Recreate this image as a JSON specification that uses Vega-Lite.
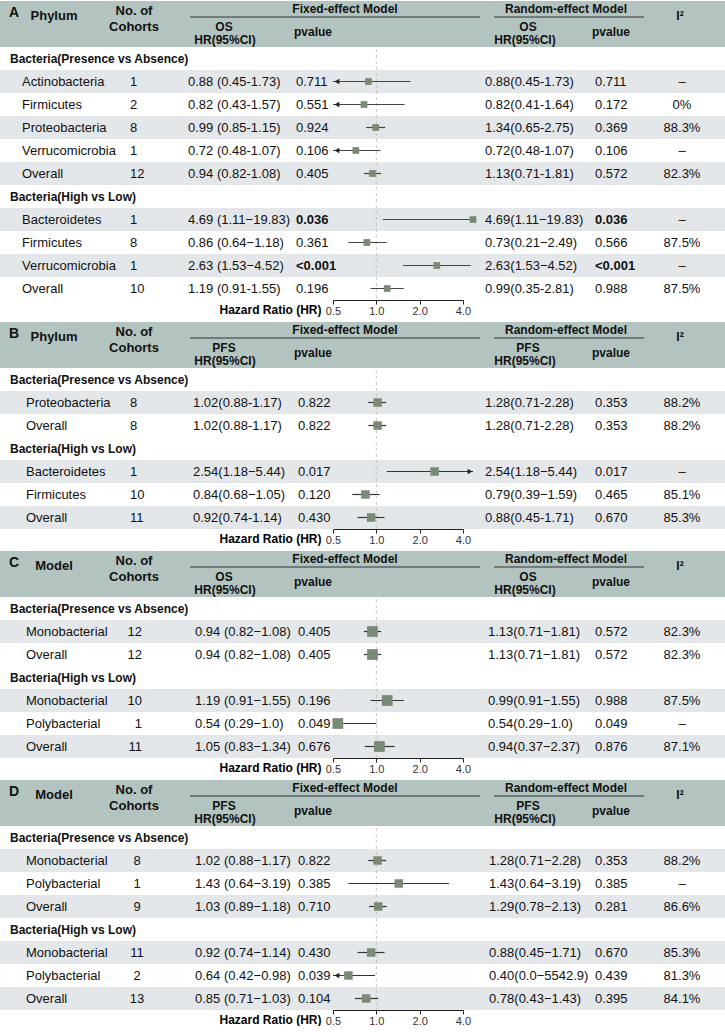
{
"$schema": "https://vega.github.io/schema/vega-lite/v6.json",
"padding": 0,
"background": "white",
"spacing": 5,
"config": {"font": "Liberation Sans", "view": {"stroke": null}, "text": {"color": "#111"}},
"datasets": {
"rows": [
{"panel":"A","row":0,"kind":"section","grp":"P","name":"Bacteria(Presence vs Absence)"},
{"panel":"A","row":1,"kind":"item","grp":"P","name":"Actinobacteria","n":"1","hf":"0.88 (0.45-1.73)","pf":"0.711","hr":0.88,"lo":0.45,"hi":1.73,"hrr":"0.88(0.45-1.73)","pr":"0.711","i2":"–","trunc":"left"},
{"panel":"A","row":2,"kind":"item","grp":"P","name":"Firmicutes","n":"2","hf":"0.82 (0.43-1.57)","pf":"0.551","hr":0.82,"lo":0.43,"hi":1.57,"hrr":"0.82(0.41-1.64)","pr":"0.172","i2":"0%","trunc":"left"},
{"panel":"A","row":3,"kind":"item","grp":"P","name":"Proteobacteria","n":"8","hf":"0.99 (0.85-1.15)","pf":"0.924","hr":0.99,"lo":0.85,"hi":1.15,"hrr":"1.34(0.65-2.75)","pr":"0.369","i2":"88.3%"},
{"panel":"A","row":4,"kind":"item","grp":"P","name":"Verrucomicrobia","n":"1","hf":"0.72 (0.48-1.07)","pf":"0.106","hr":0.72,"lo":0.48,"hi":1.07,"hrr":"0.72(0.48-1.07)","pr":"0.106","i2":"–","trunc":"left"},
{"panel":"A","row":5,"kind":"item","grp":"P","name":"Overall","n":"12","hf":"0.94 (0.82-1.08)","pf":"0.405","hr":0.94,"lo":0.82,"hi":1.08,"hrr":"1.13(0.71-1.81)","pr":"0.572","i2":"82.3%"},
{"panel":"A","row":6,"kind":"section","grp":"H","name":"Bacteria(High vs Low)"},
{"panel":"A","row":7,"kind":"item","grp":"H","name":"Bacteroidetes","n":"1","hf":"4.69 (1.11−19.83)","pf":"0.036","hr":4.69,"lo":1.11,"hi":19.83,"hrr":"4.69(1.11−19.83)","pr":"0.036","i2":"–","hl":true},
{"panel":"A","row":8,"kind":"item","grp":"H","name":"Firmicutes","n":"8","hf":"0.86 (0.64−1.18)","pf":"0.361","hr":0.86,"lo":0.64,"hi":1.18,"hrr":"0.73(0.21−2.49)","pr":"0.566","i2":"87.5%"},
{"panel":"A","row":9,"kind":"item","grp":"H","name":"Verrucomicrobia","n":"1","hf":"2.63 (1.53−4.52)","pf":"<0.001","hr":2.63,"lo":1.53,"hi":4.52,"hrr":"2.63(1.53−4.52)","pr":"<0.001","i2":"–","hl":true},
{"panel":"A","row":10,"kind":"item","grp":"H","name":"Overall","n":"10","hf":"1.19 (0.91-1.55)","pf":"0.196","hr":1.19,"lo":0.91,"hi":1.55,"hrr":"0.99(0.35-2.81)","pr":"0.988","i2":"87.5%"},
{"panel":"B","row":0,"kind":"section","grp":"P","name":"Bacteria(Presence vs Absence)"},
{"panel":"B","row":1,"kind":"item","grp":"P","name":"Proteobacteria","n":"8","hf":"1.02(0.88-1.17)","pf":"0.822","hr":1.02,"lo":0.88,"hi":1.17,"hrr":"1.28(0.71-2.28)","pr":"0.353","i2":"88.2%"},
{"panel":"B","row":2,"kind":"item","grp":"P","name":"Overall","n":"8","hf":"1.02(0.88-1.17)","pf":"0.822","hr":1.02,"lo":0.88,"hi":1.17,"hrr":"1.28(0.71-2.28)","pr":"0.353","i2":"88.2%"},
{"panel":"B","row":3,"kind":"section","grp":"H","name":"Bacteria(High vs Low)"},
{"panel":"B","row":4,"kind":"item","grp":"H","name":"Bacteroidetes","n":"1","hf":"2.54(1.18−5.44)","pf":"0.017","hr":2.54,"lo":1.18,"hi":5.44,"hrr":"2.54(1.18−5.44)","pr":"0.017","i2":"–","trunc":"right"},
{"panel":"B","row":5,"kind":"item","grp":"H","name":"Firmicutes","n":"10","hf":"0.84(0.68−1.05)","pf":"0.120","hr":0.84,"lo":0.68,"hi":1.05,"hrr":"0.79(0.39−1.59)","pr":"0.465","i2":"85.1%"},
{"panel":"B","row":6,"kind":"item","grp":"H","name":"Overall","n":"11","hf":"0.92(0.74-1.14)","pf":"0.430","hr":0.92,"lo":0.74,"hi":1.14,"hrr":"0.88(0.45-1.71)","pr":"0.670","i2":"85.3%"},
{"panel":"C","row":0,"kind":"section","grp":"P","name":"Bacteria(Presence vs Absence)"},
{"panel":"C","row":1,"kind":"item","grp":"P","name":"Monobacterial","n":"12","hf":"0.94 (0.82−1.08)","pf":"0.405","hr":0.94,"lo":0.82,"hi":1.08,"hrr":"1.13(0.71−1.81)","pr":"0.572","i2":"82.3%"},
{"panel":"C","row":2,"kind":"item","grp":"P","name":"Overall","n":"12","hf":"0.94 (0.82−1.08)","pf":"0.405","hr":0.94,"lo":0.82,"hi":1.08,"hrr":"1.13(0.71−1.81)","pr":"0.572","i2":"82.3%"},
{"panel":"C","row":3,"kind":"section","grp":"H","name":"Bacteria(High vs Low)"},
{"panel":"C","row":4,"kind":"item","grp":"H","name":"Monobacterial","n":"10","hf":"1.19 (0.91−1.55)","pf":"0.196","hr":1.19,"lo":0.91,"hi":1.55,"hrr":"0.99(0.91−1.55)","pr":"0.988","i2":"87.5%"},
{"panel":"C","row":5,"kind":"item","grp":"H","name":"Polybacterial","n":"1","hf":"0.54 (0.29−1.0)","pf":"0.049","hr":0.54,"lo":0.29,"hi":1.0,"hrr":"0.54(0.29−1.0)","pr":"0.049","i2":"–"},
{"panel":"C","row":6,"kind":"item","grp":"H","name":"Overall","n":"11","hf":"1.05 (0.83−1.34)","pf":"0.676","hr":1.05,"lo":0.83,"hi":1.34,"hrr":"0.94(0.37−2.37)","pr":"0.876","i2":"87.1%"},
{"panel":"D","row":0,"kind":"section","grp":"P","name":"Bacteria(Presence vs Absence)"},
{"panel":"D","row":1,"kind":"item","grp":"P","name":"Monobacterial","n":"8","hf":"1.02 (0.88−1.17)","pf":"0.822","hr":1.02,"lo":0.88,"hi":1.17,"hrr":"1.28(0.71−2.28)","pr":"0.353","i2":"88.2%"},
{"panel":"D","row":2,"kind":"item","grp":"P","name":"Polybacterial","n":"1","hf":"1.43 (0.64−3.19)","pf":"0.385","hr":1.43,"lo":0.64,"hi":3.19,"hrr":"1.43(0.64−3.19)","pr":"0.385","i2":"–"},
{"panel":"D","row":3,"kind":"item","grp":"P","name":"Overall","n":"9","hf":"1.03 (0.89−1.18)","pf":"0.710","hr":1.03,"lo":0.89,"hi":1.18,"hrr":"1.29(0.78−2.13)","pr":"0.281","i2":"86.6%"},
{"panel":"D","row":4,"kind":"section","grp":"H","name":"Bacteria(High vs Low)"},
{"panel":"D","row":5,"kind":"item","grp":"H","name":"Monobacterial","n":"11","hf":"0.92 (0.74−1.14)","pf":"0.430","hr":0.92,"lo":0.74,"hi":1.14,"hrr":"0.88(0.45−1.71)","pr":"0.670","i2":"85.3%"},
{"panel":"D","row":6,"kind":"item","grp":"H","name":"Polybacterial","n":"2","hf":"0.64 (0.42−0.98)","pf":"0.039","hr":0.64,"lo":0.42,"hi":0.98,"hrr":"0.40(0.0−5542.9)","pr":"0.439","i2":"81.3%","trunc":"left"},
{"panel":"D","row":7,"kind":"item","grp":"H","name":"Overall","n":"13","hf":"0.85 (0.71−1.03)","pf":"0.104","hr":0.85,"lo":0.71,"hi":1.03,"hrr":"0.78(0.43−1.43)","pr":"0.395","i2":"84.1%"}
]
},
"data": {"name": "rows"},
"vconcat": [
{
"width": 725, "height": 299,
"transform": [{"filter": "datum.panel == 'A'"}],
"resolve": {"scale": {"x": "independent"}},
"layer": [
{"transform": [{"filter": "datum.kind == 'item'"},{"window": [{"op": "row_number", "as": "rn"}], "groupby": ["grp"], "sort": [{"field": "row", "order": "ascending"}]},{"filter": "datum.rn % 2 == 1"}],
 "mark": {"type": "rect", "color": "#e4e7ea"},
 "encoding": {"x": {"datum": 0, "type": "quantitative", "scale": {"domain": [0, 725], "nice": false}, "axis": null}, "x2": {"datum": 725},
  "y": {"field": "row", "type": "ordinal", "axis": null, "scale": {"domain": [-2,-1,0,1,2,3,4,5,6,7,8,9,10], "paddingInner": 0, "paddingOuter": 0}}}},
{"resolve": {"scale": {"x": "independent"}},
 "layer": [
  {"data": {"values": [{"panel": "A", "hr": 1}]}, "mark": {"type": "rule", "color": "#c2c2c2", "strokeDash": [3, 3], "strokeWidth": 1},
   "encoding": {"x": {"field": "hr", "type": "quantitative", "scale": {"type": "log", "base": 2, "domain": [0.5, 4], "range": [333, 463], "nice": false},
    "axis": {"values": [0.5, 1, 2, 4], "format": ".1f", "title": "Hazard Ratio (HR)", "titleX": 321, "titleY": 9, "titleAlign": "right", "titleBaseline": "middle", "titleFontSize": 12, "titleFontWeight": "bold", "titleColor": "#000", "titleFont": "Liberation Sans", "labelFont": "Liberation Sans", "labelFontSize": 11, "labelColor": "#333", "labelFlush": false, "tickSize": 4, "labelPadding": 1, "domainColor": "#222", "tickColor": "#222", "grid": false}}}},
  {"transform": [{"filter": "datum.kind == 'item'"}],
   "layer": [
    {"mark": {"type": "rule", "color": "#444", "strokeWidth": 1.2},
     "encoding": {"x": {"field": "lo", "type": "quantitative", "scale": {"type": "log", "base": 2, "domain": [0.5, 4.69], "range": [333, 473], "clamp": true, "nice": false}, "axis": null}, "x2": {"field": "hi"},
      "y": {"field": "row", "type": "ordinal", "axis": null, "scale": {"domain": [-2,-1,0,1,2,3,4,5,6,7,8,9,10], "paddingInner": 0, "paddingOuter": 0}}}},
    {"transform": [{"filter": "datum.trunc == 'left'"}], "mark": {"type": "point", "shape": "triangle-left", "filled": true, "color": "#222", "opacity": 1, "size": 30, "xOffset": 4},
     "encoding": {"x": {"field": "lo", "type": "quantitative"}, "y": {"field": "row", "type": "ordinal"}}},
    {"transform": [{"filter": "datum.trunc == 'right'"}], "mark": {"type": "point", "shape": "triangle-right", "filled": true, "color": "#222", "opacity": 1, "size": 30, "xOffset": -3},
     "encoding": {"x": {"field": "hi", "type": "quantitative"}, "y": {"field": "row", "type": "ordinal"}}},
    {"mark": {"type": "point", "shape": "square", "filled": true, "color": "#7a8a74", "opacity": 1, "size": 45},
     "encoding": {"x": {"field": "hr", "type": "quantitative"}, "y": {"field": "row", "type": "ordinal"}}}
   ]}
 ]},
{"layer": [
  {"data": {"values": [{"panel": "A", "row": -2}, {"panel": "A", "row": -1}]}, "mark": {"type": "rect", "color": "#b3c4c0"},
   "encoding": {"x": {"datum": 0, "type": "quantitative", "scale": {"domain": [0, 725], "nice": false}, "axis": null}, "x2": {"datum": 725},
    "y": {"field": "row", "type": "ordinal", "axis": null, "scale": {"domain": [-2,-1,0,1,2,3,4,5,6,7,8,9,10], "paddingInner": 0, "paddingOuter": 0}}}},
  {"data": {"values": [{"panel": "A", "label": "A"}]}, "mark": {"type": "text", "align": "left", "baseline": "middle", "fontSize": 14, "fontWeight": "bold", "dy": 0},
   "encoding": {"x": {"datum": 9, "type": "quantitative"}, "y": {"datum": -2, "type": "ordinal"}, "text": {"field": "label"}}},
  {"data": {"values": [{"panel": "A", "label": "Phylum"}]}, "mark": {"type": "text", "align": "center", "baseline": "middle", "fontSize": 13, "fontWeight": "bold", "dy": 3.5},
   "encoding": {"x": {"datum": 54, "type": "quantitative"}, "y": {"datum": -2, "type": "ordinal"}, "text": {"field": "label"}}},
  {"data": {"values": [{"panel": "A", "label": "No. of"}]}, "mark": {"type": "text", "align": "center", "baseline": "middle", "fontSize": 13, "fontWeight": "bold", "dy": -1.5},
   "encoding": {"x": {"datum": 134, "type": "quantitative"}, "y": {"datum": -2, "type": "ordinal"}, "text": {"field": "label"}}},
  {"data": {"values": [{"panel": "A", "label": "Cohorts"}]}, "mark": {"type": "text", "align": "center", "baseline": "middle", "fontSize": 13, "fontWeight": "bold", "dy": -8.5},
   "encoding": {"x": {"datum": 134, "type": "quantitative"}, "y": {"datum": -1, "type": "ordinal"}, "text": {"field": "label"}}},
  {"data": {"values": [{"panel": "A", "label": "Fixed-effect Model"}]}, "mark": {"type": "text", "align": "center", "baseline": "middle", "fontSize": 12, "fontWeight": "bold", "dy": -3.5},
   "encoding": {"x": {"datum": 345, "type": "quantitative"}, "y": {"datum": -2, "type": "ordinal"}, "text": {"field": "label"}}},
  {"data": {"values": [{"panel": "A"}]}, "mark": {"type": "rule", "color": "#333", "strokeWidth": 1.2, "yOffset": 4.5},
   "encoding": {"x": {"datum": 190, "type": "quantitative"}, "x2": {"datum": 480}, "y": {"datum": -2, "type": "ordinal"}}},
  {"data": {"values": [{"panel": "A", "label": "OS"}]}, "mark": {"type": "text", "align": "center", "baseline": "middle", "fontSize": 12, "fontWeight": "bold", "dy": -9},
   "encoding": {"x": {"datum": 224, "type": "quantitative"}, "y": {"datum": -1, "type": "ordinal"}, "text": {"field": "label"}}},
  {"data": {"values": [{"panel": "A", "label": "HR(95%CI)"}]}, "mark": {"type": "text", "align": "center", "baseline": "middle", "fontSize": 12, "fontWeight": "bold", "dy": 4.5},
   "encoding": {"x": {"datum": 225, "type": "quantitative"}, "y": {"datum": -1, "type": "ordinal"}, "text": {"field": "label"}}},
  {"data": {"values": [{"panel": "A", "label": "pvalue"}]}, "mark": {"type": "text", "align": "center", "baseline": "middle", "fontSize": 12, "fontWeight": "bold", "dy": -3.5},
   "encoding": {"x": {"datum": 313, "type": "quantitative"}, "y": {"datum": -1, "type": "ordinal"}, "text": {"field": "label"}}},
  {"data": {"values": [{"panel": "A", "label": "Random-effect Model"}]}, "mark": {"type": "text", "align": "center", "baseline": "middle", "fontSize": 12, "fontWeight": "bold", "dy": -4},
   "encoding": {"x": {"datum": 566, "type": "quantitative"}, "y": {"datum": -2, "type": "ordinal"}, "text": {"field": "label"}}},
  {"data": {"values": [{"panel": "A"}]}, "mark": {"type": "rule", "color": "#333", "strokeWidth": 1.2, "yOffset": 4.5},
   "encoding": {"x": {"datum": 494, "type": "quantitative"}, "x2": {"datum": 644}, "y": {"datum": -2, "type": "ordinal"}}},
  {"data": {"values": [{"panel": "A", "label": "OS"}]}, "mark": {"type": "text", "align": "center", "baseline": "middle", "fontSize": 12, "fontWeight": "bold", "dy": -9},
   "encoding": {"x": {"datum": 528, "type": "quantitative"}, "y": {"datum": -1, "type": "ordinal"}, "text": {"field": "label"}}},
  {"data": {"values": [{"panel": "A", "label": "HR(95%CI)"}]}, "mark": {"type": "text", "align": "center", "baseline": "middle", "fontSize": 12, "fontWeight": "bold", "dy": 4.5},
   "encoding": {"x": {"datum": 525, "type": "quantitative"}, "y": {"datum": -1, "type": "ordinal"}, "text": {"field": "label"}}},
  {"data": {"values": [{"panel": "A", "label": "pvalue"}]}, "mark": {"type": "text", "align": "center", "baseline": "middle", "fontSize": 12, "fontWeight": "bold", "dy": -3.5},
   "encoding": {"x": {"datum": 611, "type": "quantitative"}, "y": {"datum": -1, "type": "ordinal"}, "text": {"field": "label"}}},
  {"data": {"values": [{"panel": "A", "label": "I²"}]}, "mark": {"type": "text", "align": "center", "baseline": "middle", "fontSize": 12, "fontWeight": "bold", "dy": 3.5},
   "encoding": {"x": {"datum": 680, "type": "quantitative"}, "y": {"datum": -2, "type": "ordinal"}, "text": {"field": "label"}}},
  {"transform": [{"filter": "datum.kind == 'section'"}], "mark": {"type": "text", "align": "left", "baseline": "middle", "fontSize": 12, "fontWeight": "bold"},
   "encoding": {"x": {"datum": 10, "type": "quantitative"}, "y": {"field": "row", "type": "ordinal"}, "text": {"field": "name"}}},
  {"transform": [{"filter": "datum.kind == 'item'"}], "mark": {"type": "text", "align": "left", "baseline": "middle", "fontSize": 13},
   "encoding": {"x": {"datum": 22, "type": "quantitative"}, "y": {"field": "row", "type": "ordinal"}, "text": {"field": "name"}}},
  {"transform": [{"filter": "datum.kind == 'item'"}], "mark": {"type": "text", "align": "left", "baseline": "middle", "fontSize": 13},
   "encoding": {"x": {"datum": 130, "type": "quantitative"}, "y": {"field": "row", "type": "ordinal"}, "text": {"field": "n"}}},
  {"transform": [{"filter": "datum.kind == 'item'"}], "mark": {"type": "text", "align": "left", "baseline": "middle", "fontSize": 13},
   "encoding": {"x": {"datum": 188, "type": "quantitative"}, "y": {"field": "row", "type": "ordinal"}, "text": {"field": "hf"}}},
  {"transform": [{"filter": "datum.kind == 'item' && !datum.hl"}], "mark": {"type": "text", "align": "left", "baseline": "middle", "fontSize": 13},
   "encoding": {"x": {"datum": 296, "type": "quantitative"}, "y": {"field": "row", "type": "ordinal"}, "text": {"field": "pf"}}},
  {"transform": [{"filter": "datum.kind == 'item' && datum.hl"}], "mark": {"type": "text", "align": "left", "baseline": "middle", "fontSize": 13, "fontWeight": "bold"},
   "encoding": {"x": {"datum": 296, "type": "quantitative"}, "y": {"field": "row", "type": "ordinal"}, "text": {"field": "pf"}}},
  {"transform": [{"filter": "datum.kind == 'item'"}], "mark": {"type": "text", "align": "left", "baseline": "middle", "fontSize": 13},
   "encoding": {"x": {"datum": 485, "type": "quantitative"}, "y": {"field": "row", "type": "ordinal"}, "text": {"field": "hrr"}}},
  {"transform": [{"filter": "datum.kind == 'item' && !datum.hl"}], "mark": {"type": "text", "align": "left", "baseline": "middle", "fontSize": 13},
   "encoding": {"x": {"datum": 595, "type": "quantitative"}, "y": {"field": "row", "type": "ordinal"}, "text": {"field": "pr"}}},
  {"transform": [{"filter": "datum.kind == 'item' && datum.hl"}], "mark": {"type": "text", "align": "left", "baseline": "middle", "fontSize": 13, "fontWeight": "bold"},
   "encoding": {"x": {"datum": 595, "type": "quantitative"}, "y": {"field": "row", "type": "ordinal"}, "text": {"field": "pr"}}},
  {"transform": [{"filter": "datum.kind == 'item'"}], "mark": {"type": "text", "align": "center", "baseline": "middle", "fontSize": 13},
   "encoding": {"x": {"datum": 682, "type": "quantitative"}, "y": {"field": "row", "type": "ordinal"}, "text": {"field": "i2"}}}
 ]}
]
},
{
"width": 725, "height": 207,
"transform": [{"filter": "datum.panel == 'B'"}],
"resolve": {"scale": {"x": "independent"}},
"layer": [
{"transform": [{"filter": "datum.kind == 'item'"},{"window": [{"op": "row_number", "as": "rn"}], "groupby": ["grp"], "sort": [{"field": "row", "order": "ascending"}]},{"filter": "datum.rn % 2 == 1"}],
 "mark": {"type": "rect", "color": "#e4e7ea"},
 "encoding": {"x": {"datum": 0, "type": "quantitative", "scale": {"domain": [0, 725], "nice": false}, "axis": null}, "x2": {"datum": 725},
  "y": {"field": "row", "type": "ordinal", "axis": null, "scale": {"domain": [-2,-1,0,1,2,3,4,5,6], "paddingInner": 0, "paddingOuter": 0}}}},
{"resolve": {"scale": {"x": "independent"}},
 "layer": [
  {"data": {"values": [{"panel": "B", "hr": 1}]}, "mark": {"type": "rule", "color": "#c2c2c2", "strokeDash": [3, 3], "strokeWidth": 1},
   "encoding": {"x": {"field": "hr", "type": "quantitative", "scale": {"type": "log", "base": 2, "domain": [0.5, 4], "range": [333, 463], "nice": false},
    "axis": {"values": [0.5, 1, 2, 4], "format": ".1f", "title": "Hazard Ratio (HR)", "titleX": 321, "titleY": 9, "titleAlign": "right", "titleBaseline": "middle", "titleFontSize": 12, "titleFontWeight": "bold", "titleColor": "#000", "titleFont": "Liberation Sans", "labelFont": "Liberation Sans", "labelFontSize": 11, "labelColor": "#333", "labelFlush": false, "tickSize": 4, "labelPadding": 1, "domainColor": "#222", "tickColor": "#222", "grid": false}}}},
  {"transform": [{"filter": "datum.kind == 'item'"}],
   "layer": [
    {"mark": {"type": "rule", "color": "#333", "strokeWidth": 1.2},
     "encoding": {"x": {"field": "lo", "type": "quantitative", "scale": {"type": "log", "base": 2, "domain": [0.5, 4.69], "range": [333, 473], "clamp": true, "nice": false}, "axis": null}, "x2": {"field": "hi"},
      "y": {"field": "row", "type": "ordinal", "axis": null, "scale": {"domain": [-2,-1,0,1,2,3,4,5,6], "paddingInner": 0, "paddingOuter": 0}}}},
    {"transform": [{"filter": "datum.trunc == 'left'"}], "mark": {"type": "point", "shape": "triangle-left", "filled": true, "color": "#222", "opacity": 1, "size": 30, "xOffset": 4},
     "encoding": {"x": {"field": "lo", "type": "quantitative"}, "y": {"field": "row", "type": "ordinal"}}},
    {"transform": [{"filter": "datum.trunc == 'right'"}], "mark": {"type": "point", "shape": "triangle-right", "filled": true, "color": "#222", "opacity": 1, "size": 30, "xOffset": -3},
     "encoding": {"x": {"field": "hi", "type": "quantitative"}, "y": {"field": "row", "type": "ordinal"}}},
    {"mark": {"type": "point", "shape": "square", "filled": true, "color": "#7a8a74", "opacity": 1, "size": 72},
     "encoding": {"x": {"field": "hr", "type": "quantitative"}, "y": {"field": "row", "type": "ordinal"}}}
   ]}
 ]},
{"layer": [
  {"data": {"values": [{"panel": "B", "row": -2}, {"panel": "B", "row": -1}]}, "mark": {"type": "rect", "color": "#b3c4c0"},
   "encoding": {"x": {"datum": 0, "type": "quantitative", "scale": {"domain": [0, 725], "nice": false}, "axis": null}, "x2": {"datum": 725},
    "y": {"field": "row", "type": "ordinal", "axis": null, "scale": {"domain": [-2,-1,0,1,2,3,4,5,6], "paddingInner": 0, "paddingOuter": 0}}}},
  {"data": {"values": [{"panel": "B", "label": "B"}]}, "mark": {"type": "text", "align": "left", "baseline": "middle", "fontSize": 14, "fontWeight": "bold", "dy": 0},
   "encoding": {"x": {"datum": 9, "type": "quantitative"}, "y": {"datum": -2, "type": "ordinal"}, "text": {"field": "label"}}},
  {"data": {"values": [{"panel": "B", "label": "Phylum"}]}, "mark": {"type": "text", "align": "center", "baseline": "middle", "fontSize": 13, "fontWeight": "bold", "dy": 3.5},
   "encoding": {"x": {"datum": 54, "type": "quantitative"}, "y": {"datum": -2, "type": "ordinal"}, "text": {"field": "label"}}},
  {"data": {"values": [{"panel": "B", "label": "No. of"}]}, "mark": {"type": "text", "align": "center", "baseline": "middle", "fontSize": 13, "fontWeight": "bold", "dy": -1.5},
   "encoding": {"x": {"datum": 134, "type": "quantitative"}, "y": {"datum": -2, "type": "ordinal"}, "text": {"field": "label"}}},
  {"data": {"values": [{"panel": "B", "label": "Cohorts"}]}, "mark": {"type": "text", "align": "center", "baseline": "middle", "fontSize": 13, "fontWeight": "bold", "dy": -8.5},
   "encoding": {"x": {"datum": 134, "type": "quantitative"}, "y": {"datum": -1, "type": "ordinal"}, "text": {"field": "label"}}},
  {"data": {"values": [{"panel": "B", "label": "Fixed-effect Model"}]}, "mark": {"type": "text", "align": "center", "baseline": "middle", "fontSize": 12, "fontWeight": "bold", "dy": -3.5},
   "encoding": {"x": {"datum": 345, "type": "quantitative"}, "y": {"datum": -2, "type": "ordinal"}, "text": {"field": "label"}}},
  {"data": {"values": [{"panel": "B"}]}, "mark": {"type": "rule", "color": "#333", "strokeWidth": 1.2, "yOffset": 4.5},
   "encoding": {"x": {"datum": 190, "type": "quantitative"}, "x2": {"datum": 480}, "y": {"datum": -2, "type": "ordinal"}}},
  {"data": {"values": [{"panel": "B", "label": "PFS"}]}, "mark": {"type": "text", "align": "center", "baseline": "middle", "fontSize": 12, "fontWeight": "bold", "dy": -9},
   "encoding": {"x": {"datum": 224, "type": "quantitative"}, "y": {"datum": -1, "type": "ordinal"}, "text": {"field": "label"}}},
  {"data": {"values": [{"panel": "B", "label": "HR(95%CI)"}]}, "mark": {"type": "text", "align": "center", "baseline": "middle", "fontSize": 12, "fontWeight": "bold", "dy": 4.5},
   "encoding": {"x": {"datum": 225, "type": "quantitative"}, "y": {"datum": -1, "type": "ordinal"}, "text": {"field": "label"}}},
  {"data": {"values": [{"panel": "B", "label": "pvalue"}]}, "mark": {"type": "text", "align": "center", "baseline": "middle", "fontSize": 12, "fontWeight": "bold", "dy": -3.5},
   "encoding": {"x": {"datum": 313, "type": "quantitative"}, "y": {"datum": -1, "type": "ordinal"}, "text": {"field": "label"}}},
  {"data": {"values": [{"panel": "B", "label": "Random-effect Model"}]}, "mark": {"type": "text", "align": "center", "baseline": "middle", "fontSize": 12, "fontWeight": "bold", "dy": -4},
   "encoding": {"x": {"datum": 566, "type": "quantitative"}, "y": {"datum": -2, "type": "ordinal"}, "text": {"field": "label"}}},
  {"data": {"values": [{"panel": "B"}]}, "mark": {"type": "rule", "color": "#333", "strokeWidth": 1.2, "yOffset": 4.5},
   "encoding": {"x": {"datum": 494, "type": "quantitative"}, "x2": {"datum": 644}, "y": {"datum": -2, "type": "ordinal"}}},
  {"data": {"values": [{"panel": "B", "label": "PFS"}]}, "mark": {"type": "text", "align": "center", "baseline": "middle", "fontSize": 12, "fontWeight": "bold", "dy": -9},
   "encoding": {"x": {"datum": 528, "type": "quantitative"}, "y": {"datum": -1, "type": "ordinal"}, "text": {"field": "label"}}},
  {"data": {"values": [{"panel": "B", "label": "HR(95%CI)"}]}, "mark": {"type": "text", "align": "center", "baseline": "middle", "fontSize": 12, "fontWeight": "bold", "dy": 4.5},
   "encoding": {"x": {"datum": 525, "type": "quantitative"}, "y": {"datum": -1, "type": "ordinal"}, "text": {"field": "label"}}},
  {"data": {"values": [{"panel": "B", "label": "pvalue"}]}, "mark": {"type": "text", "align": "center", "baseline": "middle", "fontSize": 12, "fontWeight": "bold", "dy": -3.5},
   "encoding": {"x": {"datum": 611, "type": "quantitative"}, "y": {"datum": -1, "type": "ordinal"}, "text": {"field": "label"}}},
  {"data": {"values": [{"panel": "B", "label": "I²"}]}, "mark": {"type": "text", "align": "center", "baseline": "middle", "fontSize": 12, "fontWeight": "bold", "dy": 3.5},
   "encoding": {"x": {"datum": 680, "type": "quantitative"}, "y": {"datum": -2, "type": "ordinal"}, "text": {"field": "label"}}},
  {"transform": [{"filter": "datum.kind == 'section'"}], "mark": {"type": "text", "align": "left", "baseline": "middle", "fontSize": 12, "fontWeight": "bold"},
   "encoding": {"x": {"datum": 10, "type": "quantitative"}, "y": {"field": "row", "type": "ordinal"}, "text": {"field": "name"}}},
  {"transform": [{"filter": "datum.kind == 'item'"}], "mark": {"type": "text", "align": "left", "baseline": "middle", "fontSize": 13},
   "encoding": {"x": {"datum": 26, "type": "quantitative"}, "y": {"field": "row", "type": "ordinal"}, "text": {"field": "name"}}},
  {"transform": [{"filter": "datum.kind == 'item'"}], "mark": {"type": "text", "align": "left", "baseline": "middle", "fontSize": 13},
   "encoding": {"x": {"datum": 130, "type": "quantitative"}, "y": {"field": "row", "type": "ordinal"}, "text": {"field": "n"}}},
  {"transform": [{"filter": "datum.kind == 'item'"}], "mark": {"type": "text", "align": "left", "baseline": "middle", "fontSize": 13},
   "encoding": {"x": {"datum": 193, "type": "quantitative"}, "y": {"field": "row", "type": "ordinal"}, "text": {"field": "hf"}}},
  {"transform": [{"filter": "datum.kind == 'item'"}], "mark": {"type": "text", "align": "left", "baseline": "middle", "fontSize": 13},
   "encoding": {"x": {"datum": 298, "type": "quantitative"}, "y": {"field": "row", "type": "ordinal"}, "text": {"field": "pf"}}},
  {"transform": [{"filter": "datum.kind == 'item'"}], "mark": {"type": "text", "align": "left", "baseline": "middle", "fontSize": 13},
   "encoding": {"x": {"datum": 485, "type": "quantitative"}, "y": {"field": "row", "type": "ordinal"}, "text": {"field": "hrr"}}},
  {"transform": [{"filter": "datum.kind == 'item'"}], "mark": {"type": "text", "align": "left", "baseline": "middle", "fontSize": 13},
   "encoding": {"x": {"datum": 595, "type": "quantitative"}, "y": {"field": "row", "type": "ordinal"}, "text": {"field": "pr"}}},
  {"transform": [{"filter": "datum.kind == 'item'"}], "mark": {"type": "text", "align": "center", "baseline": "middle", "fontSize": 13},
   "encoding": {"x": {"datum": 682, "type": "quantitative"}, "y": {"field": "row", "type": "ordinal"}, "text": {"field": "i2"}}}
 ]}
]
},
{
"width": 725, "height": 207,
"transform": [{"filter": "datum.panel == 'C'"}],
"resolve": {"scale": {"x": "independent"}},
"layer": [
{"transform": [{"filter": "datum.kind == 'item'"},{"window": [{"op": "row_number", "as": "rn"}], "groupby": ["grp"], "sort": [{"field": "row", "order": "ascending"}]},{"filter": "datum.rn % 2 == 1"}],
 "mark": {"type": "rect", "color": "#e4e7ea"},
 "encoding": {"x": {"datum": 0, "type": "quantitative", "scale": {"domain": [0, 725], "nice": false}, "axis": null}, "x2": {"datum": 725},
  "y": {"field": "row", "type": "ordinal", "axis": null, "scale": {"domain": [-2,-1,0,1,2,3,4,5,6], "paddingInner": 0, "paddingOuter": 0}}}},
{"resolve": {"scale": {"x": "independent"}},
 "layer": [
  {"data": {"values": [{"panel": "C", "hr": 1}]}, "mark": {"type": "rule", "color": "#c2c2c2", "strokeDash": [3, 3], "strokeWidth": 1},
   "encoding": {"x": {"field": "hr", "type": "quantitative", "scale": {"type": "log", "base": 2, "domain": [0.5, 4], "range": [333, 463], "nice": false},
    "axis": {"values": [0.5, 1, 2, 4], "format": ".1f", "title": "Hazard Ratio (HR)", "titleX": 321, "titleY": 9, "titleAlign": "right", "titleBaseline": "middle", "titleFontSize": 12, "titleFontWeight": "bold", "titleColor": "#000", "titleFont": "Liberation Sans", "labelFont": "Liberation Sans", "labelFontSize": 11, "labelColor": "#333", "labelFlush": false, "tickSize": 4, "labelPadding": 1, "domainColor": "#222", "tickColor": "#222", "grid": false}}}},
  {"transform": [{"filter": "datum.kind == 'item'"}],
   "layer": [
    {"mark": {"type": "rule", "color": "#333", "strokeWidth": 1.2},
     "encoding": {"x": {"field": "lo", "type": "quantitative", "scale": {"type": "log", "base": 2, "domain": [0.5, 4.69], "range": [333, 473], "clamp": true, "nice": false}, "axis": null}, "x2": {"field": "hi"},
      "y": {"field": "row", "type": "ordinal", "axis": null, "scale": {"domain": [-2,-1,0,1,2,3,4,5,6], "paddingInner": 0, "paddingOuter": 0}}}},
    {"mark": {"type": "point", "shape": "square", "filled": true, "color": "#7a8a74", "opacity": 1, "size": 115},
     "encoding": {"x": {"field": "hr", "type": "quantitative"}, "y": {"field": "row", "type": "ordinal"}}}
   ]}
 ]},
{"layer": [
  {"data": {"values": [{"panel": "C", "row": -2}, {"panel": "C", "row": -1}]}, "mark": {"type": "rect", "color": "#b3c4c0"},
   "encoding": {"x": {"datum": 0, "type": "quantitative", "scale": {"domain": [0, 725], "nice": false}, "axis": null}, "x2": {"datum": 725},
    "y": {"field": "row", "type": "ordinal", "axis": null, "scale": {"domain": [-2,-1,0,1,2,3,4,5,6], "paddingInner": 0, "paddingOuter": 0}}}},
  {"data": {"values": [{"panel": "C", "label": "C"}]}, "mark": {"type": "text", "align": "left", "baseline": "middle", "fontSize": 14, "fontWeight": "bold", "dy": 0},
   "encoding": {"x": {"datum": 9, "type": "quantitative"}, "y": {"datum": -2, "type": "ordinal"}, "text": {"field": "label"}}},
  {"data": {"values": [{"panel": "C", "label": "Model"}]}, "mark": {"type": "text", "align": "center", "baseline": "middle", "fontSize": 13, "fontWeight": "bold", "dy": 3.5},
   "encoding": {"x": {"datum": 54, "type": "quantitative"}, "y": {"datum": -2, "type": "ordinal"}, "text": {"field": "label"}}},
  {"data": {"values": [{"panel": "C", "label": "No. of"}]}, "mark": {"type": "text", "align": "center", "baseline": "middle", "fontSize": 13, "fontWeight": "bold", "dy": -1.5},
   "encoding": {"x": {"datum": 134, "type": "quantitative"}, "y": {"datum": -2, "type": "ordinal"}, "text": {"field": "label"}}},
  {"data": {"values": [{"panel": "C", "label": "Cohorts"}]}, "mark": {"type": "text", "align": "center", "baseline": "middle", "fontSize": 13, "fontWeight": "bold", "dy": -8.5},
   "encoding": {"x": {"datum": 134, "type": "quantitative"}, "y": {"datum": -1, "type": "ordinal"}, "text": {"field": "label"}}},
  {"data": {"values": [{"panel": "C", "label": "Fixed-effect Model"}]}, "mark": {"type": "text", "align": "center", "baseline": "middle", "fontSize": 12, "fontWeight": "bold", "dy": -3.5},
   "encoding": {"x": {"datum": 345, "type": "quantitative"}, "y": {"datum": -2, "type": "ordinal"}, "text": {"field": "label"}}},
  {"data": {"values": [{"panel": "C"}]}, "mark": {"type": "rule", "color": "#333", "strokeWidth": 1.2, "yOffset": 4.5},
   "encoding": {"x": {"datum": 190, "type": "quantitative"}, "x2": {"datum": 480}, "y": {"datum": -2, "type": "ordinal"}}},
  {"data": {"values": [{"panel": "C", "label": "OS"}]}, "mark": {"type": "text", "align": "center", "baseline": "middle", "fontSize": 12, "fontWeight": "bold", "dy": -9},
   "encoding": {"x": {"datum": 224, "type": "quantitative"}, "y": {"datum": -1, "type": "ordinal"}, "text": {"field": "label"}}},
  {"data": {"values": [{"panel": "C", "label": "HR(95%CI)"}]}, "mark": {"type": "text", "align": "center", "baseline": "middle", "fontSize": 12, "fontWeight": "bold", "dy": 4.5},
   "encoding": {"x": {"datum": 225, "type": "quantitative"}, "y": {"datum": -1, "type": "ordinal"}, "text": {"field": "label"}}},
  {"data": {"values": [{"panel": "C", "label": "pvalue"}]}, "mark": {"type": "text", "align": "center", "baseline": "middle", "fontSize": 12, "fontWeight": "bold", "dy": -3.5},
   "encoding": {"x": {"datum": 313, "type": "quantitative"}, "y": {"datum": -1, "type": "ordinal"}, "text": {"field": "label"}}},
  {"data": {"values": [{"panel": "C", "label": "Random-effect Model"}]}, "mark": {"type": "text", "align": "center", "baseline": "middle", "fontSize": 12, "fontWeight": "bold", "dy": -4},
   "encoding": {"x": {"datum": 566, "type": "quantitative"}, "y": {"datum": -2, "type": "ordinal"}, "text": {"field": "label"}}},
  {"data": {"values": [{"panel": "C"}]}, "mark": {"type": "rule", "color": "#333", "strokeWidth": 1.2, "yOffset": 4.5},
   "encoding": {"x": {"datum": 494, "type": "quantitative"}, "x2": {"datum": 644}, "y": {"datum": -2, "type": "ordinal"}}},
  {"data": {"values": [{"panel": "C", "label": "OS"}]}, "mark": {"type": "text", "align": "center", "baseline": "middle", "fontSize": 12, "fontWeight": "bold", "dy": -9},
   "encoding": {"x": {"datum": 528, "type": "quantitative"}, "y": {"datum": -1, "type": "ordinal"}, "text": {"field": "label"}}},
  {"data": {"values": [{"panel": "C", "label": "HR(95%CI)"}]}, "mark": {"type": "text", "align": "center", "baseline": "middle", "fontSize": 12, "fontWeight": "bold", "dy": 4.5},
   "encoding": {"x": {"datum": 525, "type": "quantitative"}, "y": {"datum": -1, "type": "ordinal"}, "text": {"field": "label"}}},
  {"data": {"values": [{"panel": "C", "label": "pvalue"}]}, "mark": {"type": "text", "align": "center", "baseline": "middle", "fontSize": 12, "fontWeight": "bold", "dy": -3.5},
   "encoding": {"x": {"datum": 611, "type": "quantitative"}, "y": {"datum": -1, "type": "ordinal"}, "text": {"field": "label"}}},
  {"data": {"values": [{"panel": "C", "label": "I²"}]}, "mark": {"type": "text", "align": "center", "baseline": "middle", "fontSize": 12, "fontWeight": "bold", "dy": 3.5},
   "encoding": {"x": {"datum": 680, "type": "quantitative"}, "y": {"datum": -2, "type": "ordinal"}, "text": {"field": "label"}}},
  {"transform": [{"filter": "datum.kind == 'section'"}], "mark": {"type": "text", "align": "left", "baseline": "middle", "fontSize": 12, "fontWeight": "bold"},
   "encoding": {"x": {"datum": 10, "type": "quantitative"}, "y": {"field": "row", "type": "ordinal"}, "text": {"field": "name"}}},
  {"transform": [{"filter": "datum.kind == 'item'"}], "mark": {"type": "text", "align": "left", "baseline": "middle", "fontSize": 13},
   "encoding": {"x": {"datum": 26, "type": "quantitative"}, "y": {"field": "row", "type": "ordinal"}, "text": {"field": "name"}}},
  {"transform": [{"filter": "datum.kind == 'item'"}], "mark": {"type": "text", "align": "right", "baseline": "middle", "fontSize": 13},
   "encoding": {"x": {"datum": 142, "type": "quantitative"}, "y": {"field": "row", "type": "ordinal"}, "text": {"field": "n"}}},
  {"transform": [{"filter": "datum.kind == 'item'"}], "mark": {"type": "text", "align": "left", "baseline": "middle", "fontSize": 13},
   "encoding": {"x": {"datum": 195, "type": "quantitative"}, "y": {"field": "row", "type": "ordinal"}, "text": {"field": "hf"}}},
  {"transform": [{"filter": "datum.kind == 'item'"}], "mark": {"type": "text", "align": "left", "baseline": "middle", "fontSize": 13},
   "encoding": {"x": {"datum": 298, "type": "quantitative"}, "y": {"field": "row", "type": "ordinal"}, "text": {"field": "pf"}}},
  {"transform": [{"filter": "datum.kind == 'item'"}], "mark": {"type": "text", "align": "left", "baseline": "middle", "fontSize": 13},
   "encoding": {"x": {"datum": 488, "type": "quantitative"}, "y": {"field": "row", "type": "ordinal"}, "text": {"field": "hrr"}}},
  {"transform": [{"filter": "datum.kind == 'item'"}], "mark": {"type": "text", "align": "left", "baseline": "middle", "fontSize": 13},
   "encoding": {"x": {"datum": 595, "type": "quantitative"}, "y": {"field": "row", "type": "ordinal"}, "text": {"field": "pr"}}},
  {"transform": [{"filter": "datum.kind == 'item'"}], "mark": {"type": "text", "align": "center", "baseline": "middle", "fontSize": 13},
   "encoding": {"x": {"datum": 682, "type": "quantitative"}, "y": {"field": "row", "type": "ordinal"}, "text": {"field": "i2"}}}
 ]}
]
},
{
"width": 725, "height": 230,
"transform": [{"filter": "datum.panel == 'D'"}],
"resolve": {"scale": {"x": "independent"}},
"layer": [
{"transform": [{"filter": "datum.kind == 'item'"},{"window": [{"op": "row_number", "as": "rn"}], "groupby": ["grp"], "sort": [{"field": "row", "order": "ascending"}]},{"filter": "datum.rn % 2 == 1"}],
 "mark": {"type": "rect", "color": "#e4e7ea"},
 "encoding": {"x": {"datum": 0, "type": "quantitative", "scale": {"domain": [0, 725], "nice": false}, "axis": null}, "x2": {"datum": 725},
  "y": {"field": "row", "type": "ordinal", "axis": null, "scale": {"domain": [-2,-1,0,1,2,3,4,5,6,7], "paddingInner": 0, "paddingOuter": 0}}}},
{"resolve": {"scale": {"x": "independent"}},
 "layer": [
  {"data": {"values": [{"panel": "D", "hr": 1}]}, "mark": {"type": "rule", "color": "#c2c2c2", "strokeDash": [3, 3], "strokeWidth": 1},
   "encoding": {"x": {"field": "hr", "type": "quantitative", "scale": {"type": "log", "base": 2, "domain": [0.5, 4], "range": [333, 463], "nice": false},
    "axis": {"values": [0.5, 1, 2, 4], "format": ".1f", "title": "Hazard Ratio (HR)", "titleX": 321, "titleY": 9, "titleAlign": "right", "titleBaseline": "middle", "titleFontSize": 12, "titleFontWeight": "bold", "titleColor": "#000", "titleFont": "Liberation Sans", "labelFont": "Liberation Sans", "labelFontSize": 11, "labelColor": "#333", "labelFlush": false, "tickSize": 4, "labelPadding": 1, "domainColor": "#222", "tickColor": "#222", "grid": false}}}},
  {"transform": [{"filter": "datum.kind == 'item'"}],
   "layer": [
    {"mark": {"type": "rule", "color": "#333", "strokeWidth": 1.2},
     "encoding": {"x": {"field": "lo", "type": "quantitative", "scale": {"type": "log", "base": 2, "domain": [0.5, 4.69], "range": [333, 473], "clamp": true, "nice": false}, "axis": null}, "x2": {"field": "hi"},
      "y": {"field": "row", "type": "ordinal", "axis": null, "scale": {"domain": [-2,-1,0,1,2,3,4,5,6,7], "paddingInner": 0, "paddingOuter": 0}}}},
    {"transform": [{"filter": "datum.trunc == 'left'"}], "mark": {"type": "point", "shape": "triangle-left", "filled": true, "color": "#222", "opacity": 1, "size": 30, "xOffset": 4},
     "encoding": {"x": {"field": "lo", "type": "quantitative"}, "y": {"field": "row", "type": "ordinal"}}},
    {"mark": {"type": "point", "shape": "square", "filled": true, "color": "#7a8a74", "opacity": 1, "size": 72},
     "encoding": {"x": {"field": "hr", "type": "quantitative"}, "y": {"field": "row", "type": "ordinal"}}}
   ]}
 ]},
{"layer": [
  {"data": {"values": [{"panel": "D", "row": -2}, {"panel": "D", "row": -1}]}, "mark": {"type": "rect", "color": "#b3c4c0"},
   "encoding": {"x": {"datum": 0, "type": "quantitative", "scale": {"domain": [0, 725], "nice": false}, "axis": null}, "x2": {"datum": 725},
    "y": {"field": "row", "type": "ordinal", "axis": null, "scale": {"domain": [-2,-1,0,1,2,3,4,5,6,7], "paddingInner": 0, "paddingOuter": 0}}}},
  {"data": {"values": [{"panel": "D", "label": "D"}]}, "mark": {"type": "text", "align": "left", "baseline": "middle", "fontSize": 14, "fontWeight": "bold", "dy": 0},
   "encoding": {"x": {"datum": 9, "type": "quantitative"}, "y": {"datum": -2, "type": "ordinal"}, "text": {"field": "label"}}},
  {"data": {"values": [{"panel": "D", "label": "Model"}]}, "mark": {"type": "text", "align": "center", "baseline": "middle", "fontSize": 13, "fontWeight": "bold", "dy": 3.5},
   "encoding": {"x": {"datum": 54, "type": "quantitative"}, "y": {"datum": -2, "type": "ordinal"}, "text": {"field": "label"}}},
  {"data": {"values": [{"panel": "D", "label": "No. of"}]}, "mark": {"type": "text", "align": "center", "baseline": "middle", "fontSize": 13, "fontWeight": "bold", "dy": -1.5},
   "encoding": {"x": {"datum": 134, "type": "quantitative"}, "y": {"datum": -2, "type": "ordinal"}, "text": {"field": "label"}}},
  {"data": {"values": [{"panel": "D", "label": "Cohorts"}]}, "mark": {"type": "text", "align": "center", "baseline": "middle", "fontSize": 13, "fontWeight": "bold", "dy": -8.5},
   "encoding": {"x": {"datum": 134, "type": "quantitative"}, "y": {"datum": -1, "type": "ordinal"}, "text": {"field": "label"}}},
  {"data": {"values": [{"panel": "D", "label": "Fixed-effect Model"}]}, "mark": {"type": "text", "align": "center", "baseline": "middle", "fontSize": 12, "fontWeight": "bold", "dy": -3.5},
   "encoding": {"x": {"datum": 345, "type": "quantitative"}, "y": {"datum": -2, "type": "ordinal"}, "text": {"field": "label"}}},
  {"data": {"values": [{"panel": "D"}]}, "mark": {"type": "rule", "color": "#333", "strokeWidth": 1.2, "yOffset": 4.5},
   "encoding": {"x": {"datum": 190, "type": "quantitative"}, "x2": {"datum": 480}, "y": {"datum": -2, "type": "ordinal"}}},
  {"data": {"values": [{"panel": "D", "label": "PFS"}]}, "mark": {"type": "text", "align": "center", "baseline": "middle", "fontSize": 12, "fontWeight": "bold", "dy": -9},
   "encoding": {"x": {"datum": 224, "type": "quantitative"}, "y": {"datum": -1, "type": "ordinal"}, "text": {"field": "label"}}},
  {"data": {"values": [{"panel": "D", "label": "HR(95%CI)"}]}, "mark": {"type": "text", "align": "center", "baseline": "middle", "fontSize": 12, "fontWeight": "bold", "dy": 4.5},
   "encoding": {"x": {"datum": 225, "type": "quantitative"}, "y": {"datum": -1, "type": "ordinal"}, "text": {"field": "label"}}},
  {"data": {"values": [{"panel": "D", "label": "pvalue"}]}, "mark": {"type": "text", "align": "center", "baseline": "middle", "fontSize": 12, "fontWeight": "bold", "dy": -3.5},
   "encoding": {"x": {"datum": 313, "type": "quantitative"}, "y": {"datum": -1, "type": "ordinal"}, "text": {"field": "label"}}},
  {"data": {"values": [{"panel": "D", "label": "Random-effect Model"}]}, "mark": {"type": "text", "align": "center", "baseline": "middle", "fontSize": 12, "fontWeight": "bold", "dy": -4},
   "encoding": {"x": {"datum": 566, "type": "quantitative"}, "y": {"datum": -2, "type": "ordinal"}, "text": {"field": "label"}}},
  {"data": {"values": [{"panel": "D"}]}, "mark": {"type": "rule", "color": "#333", "strokeWidth": 1.2, "yOffset": 4.5},
   "encoding": {"x": {"datum": 494, "type": "quantitative"}, "x2": {"datum": 644}, "y": {"datum": -2, "type": "ordinal"}}},
  {"data": {"values": [{"panel": "D", "label": "PFS"}]}, "mark": {"type": "text", "align": "center", "baseline": "middle", "fontSize": 12, "fontWeight": "bold", "dy": -9},
   "encoding": {"x": {"datum": 528, "type": "quantitative"}, "y": {"datum": -1, "type": "ordinal"}, "text": {"field": "label"}}},
  {"data": {"values": [{"panel": "D", "label": "HR(95%CI)"}]}, "mark": {"type": "text", "align": "center", "baseline": "middle", "fontSize": 12, "fontWeight": "bold", "dy": 4.5},
   "encoding": {"x": {"datum": 525, "type": "quantitative"}, "y": {"datum": -1, "type": "ordinal"}, "text": {"field": "label"}}},
  {"data": {"values": [{"panel": "D", "label": "pvalue"}]}, "mark": {"type": "text", "align": "center", "baseline": "middle", "fontSize": 12, "fontWeight": "bold", "dy": -3.5},
   "encoding": {"x": {"datum": 611, "type": "quantitative"}, "y": {"datum": -1, "type": "ordinal"}, "text": {"field": "label"}}},
  {"data": {"values": [{"panel": "D", "label": "I²"}]}, "mark": {"type": "text", "align": "center", "baseline": "middle", "fontSize": 12, "fontWeight": "bold", "dy": 3.5},
   "encoding": {"x": {"datum": 680, "type": "quantitative"}, "y": {"datum": -2, "type": "ordinal"}, "text": {"field": "label"}}},
  {"transform": [{"filter": "datum.kind == 'section'"}], "mark": {"type": "text", "align": "left", "baseline": "middle", "fontSize": 12, "fontWeight": "bold"},
   "encoding": {"x": {"datum": 10, "type": "quantitative"}, "y": {"field": "row", "type": "ordinal"}, "text": {"field": "name"}}},
  {"transform": [{"filter": "datum.kind == 'item'"}], "mark": {"type": "text", "align": "left", "baseline": "middle", "fontSize": 13},
   "encoding": {"x": {"datum": 26, "type": "quantitative"}, "y": {"field": "row", "type": "ordinal"}, "text": {"field": "name"}}},
  {"transform": [{"filter": "datum.kind == 'item'"}], "mark": {"type": "text", "align": "center", "baseline": "middle", "fontSize": 13},
   "encoding": {"x": {"datum": 137, "type": "quantitative"}, "y": {"field": "row", "type": "ordinal"}, "text": {"field": "n"}}},
  {"transform": [{"filter": "datum.kind == 'item'"}], "mark": {"type": "text", "align": "left", "baseline": "middle", "fontSize": 13},
   "encoding": {"x": {"datum": 195, "type": "quantitative"}, "y": {"field": "row", "type": "ordinal"}, "text": {"field": "hf"}}},
  {"transform": [{"filter": "datum.kind == 'item'"}], "mark": {"type": "text", "align": "left", "baseline": "middle", "fontSize": 13},
   "encoding": {"x": {"datum": 298, "type": "quantitative"}, "y": {"field": "row", "type": "ordinal"}, "text": {"field": "pf"}}},
  {"transform": [{"filter": "datum.kind == 'item'"}], "mark": {"type": "text", "align": "left", "baseline": "middle", "fontSize": 13},
   "encoding": {"x": {"datum": 489, "type": "quantitative"}, "y": {"field": "row", "type": "ordinal"}, "text": {"field": "hrr"}}},
  {"transform": [{"filter": "datum.kind == 'item'"}], "mark": {"type": "text", "align": "left", "baseline": "middle", "fontSize": 13},
   "encoding": {"x": {"datum": 595, "type": "quantitative"}, "y": {"field": "row", "type": "ordinal"}, "text": {"field": "pr"}}},
  {"transform": [{"filter": "datum.kind == 'item'"}], "mark": {"type": "text", "align": "center", "baseline": "middle", "fontSize": 13},
   "encoding": {"x": {"datum": 682, "type": "quantitative"}, "y": {"field": "row", "type": "ordinal"}, "text": {"field": "i2"}}}
 ]}
]
}
]
}
